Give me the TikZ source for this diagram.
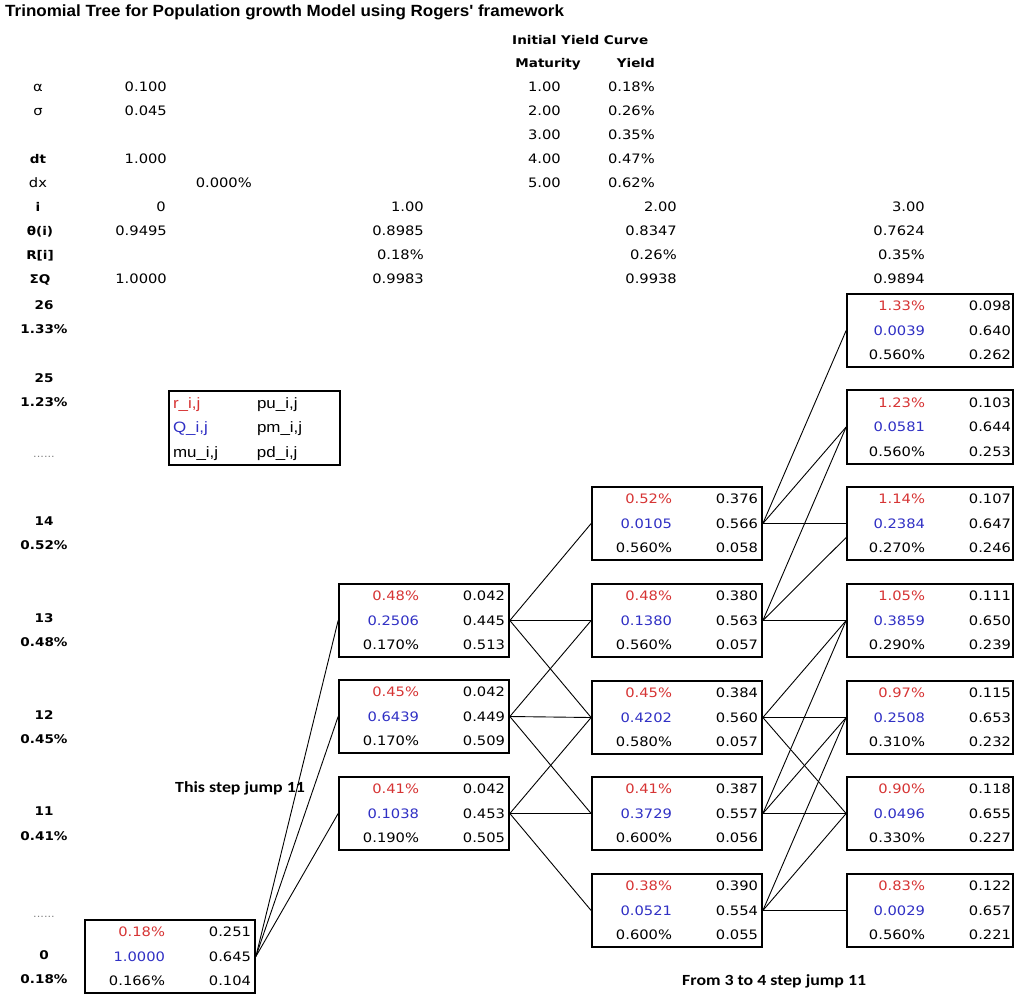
\documentclass[tikz,border=0pt]{standalone}
\usepackage{fontspec}
\usepackage{array}
\setmainfont{DejaVu Sans}[FakeStretch=1.13]
\newfontfamily\titlefont[FakeStretch=1.05]{Liberation Sans}
\newfontfamily\keyfont[FakeStretch=1.13]{Liberation Sans}
\newfontfamily\notefont[FakeStretch=1.15]{Carlito}
\definecolor{rcol}{RGB}{214,52,52}
\definecolor{qcol}{RGB}{48,48,196}
\newcolumntype{R}[1]{>{\raggedleft\arraybackslash}p{#1}}
\newcolumntype{L}[1]{>{\raggedright\arraybackslash}p{#1}}
\renewcommand{\arraystretch}{1.53}
% one tree node: r, Q, mu on the left; pu, pm, pd on the right
\newcommand{\cellrows}[6]{%
  \begin{tabular}{@{}R{76pt}@{}R{86pt}@{}}
    \textcolor{rcol}{#1} & #4\\
    \textcolor{qcol}{#2} & #5\\
    #3 & #6
  \end{tabular}}

\begin{document}
\begin{tikzpicture}[x=1pt, y=-1pt,
    every node/.style={font=\fontsize{13}{16}\selectfont},
    cell/.style={draw, line width=1.7pt, inner xsep=4pt, inner ysep=0pt},
    edgecell/.style={cell, inner xsep=2pt},
    keybox/.style={draw, line width=1.8pt, inner xsep=4pt, inner ysep=0pt,
                   font=\keyfont\fontsize{15}{16}\selectfont},
    val/.style={anchor=mid east, inner sep=0pt},
    plain/.style={anchor=mid, inner sep=0pt},
    head/.style={inner sep=0pt, font=\bfseries\fontsize{12}{14}\selectfont},
    level/.style={anchor=mid, inner sep=0pt, font=\bfseries\fontsize{12}{14}\selectfont},
    dots/.style={anchor=mid, inner sep=0pt, text=gray, font=\fontsize{10}{12}\selectfont},
    note/.style={anchor=mid west, inner sep=0pt,
                 font=\notefont\bfseries\fontsize{15.5}{18}\selectfont},
    link/.style={line width=0.9pt}
  ]
  \useasboundingbox (0,0) rectangle (1014,996);

  \node[anchor=mid west, inner sep=0pt,
        font=\titlefont\bfseries\fontsize{16.2}{18}\selectfont] (title) at (5,14)
    {Trinomial Tree for Population growth Model using Rogers' framework};

  % yield curve
  \node[head, anchor=mid west] (curve) at (512,42) {Initial Yield Curve};
  \node[head, anchor=mid east] (mathead) at (581,65) {Maturity};
  \node[head, anchor=mid east] (yldhead) at (655,65) {Yield};
  \node[val] (mat1) at (561,89) {1.00};
  \node[val] (mat2) at (561,113) {2.00};
  \node[val] (mat3) at (561,137) {3.00};
  \node[val] (mat4) at (561,161) {4.00};
  \node[val] (mat5) at (561,185) {5.00};
  \node[val] (yld1) at (655,89) {0.18\%};
  \node[val] (yld2) at (655,113) {0.26\%};
  \node[val] (yld3) at (655,137) {0.35\%};
  \node[val] (yld4) at (655,161) {0.47\%};
  \node[val] (yld5) at (655,185) {0.62\%};

  % parameters
  \node[plain] (alpha) at (38,89) {α};
  \node[plain] (sigma) at (38,113) {σ};
  \node[head, anchor=mid] (dt) at (38,161) {dt};
  \node[plain] (dx) at (38,185) {dx};
  \node[head, anchor=mid] (irow) at (38,209) {i};
  \node[head, anchor=mid] (theta) at (40,233) {θ(i)};
  \node[head, anchor=mid] (rrow) at (40,257) {R[i]};
  \node[head, anchor=mid] (sumq) at (40,281) {ΣQ};
  \node[val] (alphav) at (167,89) {0.100};
  \node[val] (sigmav) at (167,113) {0.045};
  \node[val] (dtv) at (167,161) {1.000};
  \node[val] (dxv) at (252,185) {0.000\%};

  % per step values
  \node[val] (i0) at (166,209) {0};
  \node[val] (i1) at (424,209) {1.00};
  \node[val] (i2) at (677,209) {2.00};
  \node[val] (i3) at (925,209) {3.00};
  \node[val] (th0) at (167,233) {0.9495};
  \node[val] (th1) at (424,233) {0.8985};
  \node[val] (th2) at (677,233) {0.8347};
  \node[val] (th3) at (925,233) {0.7624};
  \node[val] (r1) at (424,257) {0.18\%};
  \node[val] (r2) at (677,257) {0.26\%};
  \node[val] (r3) at (925,257) {0.35\%};
  \node[val] (q0) at (167,281) {1.0000};
  \node[val] (q1) at (424,281) {0.9983};
  \node[val] (q2) at (677,281) {0.9938};
  \node[val] (q3) at (925,281) {0.9894};

  % level labels
  \node[level] (j26) at (44,307) {26};
  \node[level] (y26) at (44,331) {1.33\%};
  \node[level] (j25) at (44,380) {25};
  \node[level] (y25) at (44,404) {1.23\%};
  \node[dots] (dotsa) at (44,455) {......};
  \node[level] (j14) at (44,523) {14};
  \node[level] (y14) at (44,547) {0.52\%};
  \node[level] (j13) at (44,620) {13};
  \node[level] (y13) at (44,644) {0.48\%};
  \node[level] (j12) at (44,717) {12};
  \node[level] (y12) at (44,741) {0.45\%};
  \node[level] (j11) at (44,813) {11};
  \node[level] (y11) at (44,838) {0.41\%};
  \node[dots] (dotsb) at (44,915) {......};
  \node[level] (j0) at (44,957) {0};
  \node[level] (y0) at (44,981) {0.18\%};

  % legend
  \node[keybox] (key) at (254.5,428)
    {\begin{tabular}{@{}L{84pt}@{}L{79pt}@{}}
       \textcolor{rcol}{r\_i,j} & pu\_i,j\\
       \textcolor{qcol}{Q\_i,j} & pm\_i,j\\
       mu\_i,j & pd\_i,j
     \end{tabular}};

  % step 0
  \node[cell] (s0) at (170,956.5) {\cellrows{0.18\%}{1.0000}{0.166\%}{0.251}{0.645}{0.104}};
  % step 1
  \node[cell] (s1u) at (424,620.5) {\cellrows{0.48\%}{0.2506}{0.170\%}{0.042}{0.445}{0.513}};
  \node[cell] (s1m) at (424,716.5) {\cellrows{0.45\%}{0.6439}{0.170\%}{0.042}{0.449}{0.509}};
  \node[cell] (s1d) at (424,813.5) {\cellrows{0.41\%}{0.1038}{0.190\%}{0.042}{0.453}{0.505}};
  % step 2
  \node[cell] (s2a) at (677,523.5) {\cellrows{0.52\%}{0.0105}{0.560\%}{0.376}{0.566}{0.058}};
  \node[cell] (s2b) at (677,620.5) {\cellrows{0.48\%}{0.1380}{0.560\%}{0.380}{0.563}{0.057}};
  \node[cell] (s2c) at (677,717.5) {\cellrows{0.45\%}{0.4202}{0.580\%}{0.384}{0.560}{0.057}};
  \node[cell] (s2d) at (677,813.5) {\cellrows{0.41\%}{0.3729}{0.600\%}{0.387}{0.557}{0.056}};
  \node[cell] (s2e) at (677,910.5) {\cellrows{0.38\%}{0.0521}{0.600\%}{0.390}{0.554}{0.055}};
  % step 3
  \node[edgecell] (s3a) at (930,330.5) {\cellrows{1.33\%}{0.0039}{0.560\%}{0.098}{0.640}{0.262}};
  \node[edgecell] (s3b) at (930,427) {\cellrows{1.23\%}{0.0581}{0.560\%}{0.103}{0.644}{0.253}};
  \node[edgecell] (s3c) at (930,523.5) {\cellrows{1.14\%}{0.2384}{0.270\%}{0.107}{0.647}{0.246}};
  \node[edgecell] (s3d) at (930,620.5) {\cellrows{1.05\%}{0.3859}{0.290\%}{0.111}{0.650}{0.239}};
  \node[edgecell] (s3e) at (930,717.5) {\cellrows{0.97\%}{0.2508}{0.310\%}{0.115}{0.653}{0.232}};
  \node[edgecell] (s3f) at (930,813.5) {\cellrows{0.90\%}{0.0496}{0.330\%}{0.118}{0.655}{0.227}};
  \node[edgecell] (s3g) at (930,910.5) {\cellrows{0.83\%}{0.0029}{0.560\%}{0.122}{0.657}{0.221}};

  \node[note] (jumpa) at (175,790) {This step jump 11};
  \node[note] (jumpb) at (682,983) {From 3 to 4 step jump 11};

  \draw[link] (s0.east) -- (s1u.west);
  \draw[link] (s0.east) -- (s1m.west);
  \draw[link] (s0.east) -- (s1d.west);

  \draw[link] (s1u.east) -- (s2a.west);
  \draw[link] (s1u.east) -- (s2b.west);
  \draw[link] (s1u.east) -- (s2c.west);
  \draw[link] (s1m.east) -- (s2b.west);
  \draw[link] (s1m.east) -- (s2c.west);
  \draw[link] (s1m.east) -- (s2d.west);
  \draw[link] (s1d.east) -- (s2c.west);
  \draw[link] (s1d.east) -- (s2d.west);
  \draw[link] (s1d.east) -- (s2e.west);

  \draw[link] (s2a.east) -- (s3a.west);
  \draw[link] (s2a.east) -- (s3b.west);
  \draw[link] (s2a.east) -- (s3c.west);
  \draw[link] (s2b.east) -- (s3b.west);
  \draw[link] (s2b.east) -- ([yshift=-14pt]s3c.west);
  \draw[link] (s2b.east) -- (s3d.west);
  \draw[link] (s2c.east) -- (s3d.west);
  \draw[link] (s2c.east) -- (s3e.west);
  \draw[link] (s2c.east) -- (s3f.west);
  \draw[link] (s2d.east) -- (s3d.west);
  \draw[link] (s2d.east) -- (s3e.west);
  \draw[link] (s2d.east) -- (s3f.west);
  \draw[link] (s2e.east) -- (s3e.west);
  \draw[link] (s2e.east) -- (s3f.west);
  \draw[link] (s2e.east) -- (s3g.west);
\end{tikzpicture}
\end{document}
